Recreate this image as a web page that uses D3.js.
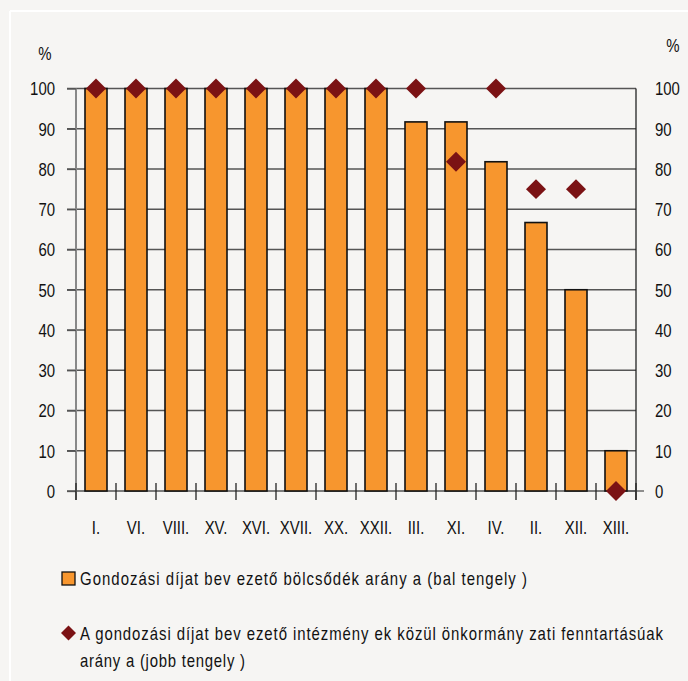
<!DOCTYPE html>
<html><head><meta charset="utf-8">
<script src="https://cdn.jsdelivr.net/npm/d3@7"></script>
<style>
html,body{margin:0;padding:0;background:#f6f5f3;}
svg{display:block;}
text{font-family:"Liberation Sans",Arial,sans-serif;fill:#111;}
</style></head>
<body>
<svg id="c" width="688" height="681"></svg>
<script>
const categories = ["I.","VI.","VIII.","XV.","XVI.","XVII.","XX.","XXII.","III.","XI.","IV.","II.","XII.","XIII."];
const barValues = [100,100,100,100,100,100,100,100,91.7,91.7,81.8,66.7,50,10];
const diamondValues = [100,100,100,100,100,100,100,100,100,81.8,100,75,75,0];
const tickValues = [0,10,20,30,40,50,60,70,80,90,100];
const legendBar = "Gondozási díjat bev ezető bölcsődék arány a (bal tengely )";
const legendDiamondLines = ["A gondozási díjat bev ezető intézmény ek közül önkormány zati fenntartásúak","arány a (jobb tengely )"];

(function(){
const svg = d3.select("#c");
const W = 688, H = 681;
const pL = 76, pR = 636, pT = 88.5, pB = 491;
const FS = 18, SX = 0.83;

// narrow text helper: draws text at (x,y) horizontally condensed
function ntext(parent, x, y, str, anchor, dy){
  const t = parent.append("text")
    .attr("transform", `translate(${x},${y}) scale(${SX},1)`)
    .attr("font-size", FS).attr("text-anchor", anchor || "start").text(str);
  if (dy) t.attr("dy", dy);
  return t;
}

svg.append("line").attr("x1",10).attr("x2",10).attr("y1",11).attr("y2",H).attr("stroke","#fff").attr("stroke-width",2);
svg.append("line").attr("x1",10).attr("x2",W).attr("y1",11).attr("y2",11).attr("stroke","#fff").attr("stroke-width",2);

const x = d3.scaleBand().domain(categories).range([pL,pR]).paddingInner(0.45).paddingOuter(0.225);
const yL = d3.scaleLinear().domain([0,100]).range([pB,pT]);
const yR = d3.scaleLinear().domain([0,100]).range([pB,pT]);

svg.append("g").selectAll("line").data(tickValues).join("line")
  .attr("x1",pL-9).attr("x2",pR).attr("y1",d=>yL(d)).attr("y2",d=>yL(d))
  .attr("stroke","#555").attr("stroke-width",1.3);

const gL = svg.append("g").attr("transform",`translate(${pL},0)`)
  .call(d3.axisLeft(yL).tickValues(tickValues).tickSize(9).tickPadding(12));
gL.attr("font-family",null).attr("font-size",null);
gL.select(".domain").attr("stroke","#888").attr("stroke-width",2).attr("d",`M0,${pT}V${pB+9}`);
gL.selectAll(".tick line").attr("stroke","#555").attr("stroke-width",1.3);
gL.selectAll(".tick text").attr("font-size",FS).attr("fill","#111")
  .attr("transform",`scale(${SX},1)`).attr("x",-21/SX).attr("dy","0.36em");

const gR = svg.append("g").attr("transform",`translate(${pR},0)`)
  .call(d3.axisRight(yR).tickValues(tickValues).tickSize(0).tickPadding(19));
gR.attr("font-family",null).attr("font-size",null);
gR.select(".domain").attr("stroke","#222").attr("stroke-width",1.3).attr("d",`M0,${pT}V${pB+9}`);
gR.selectAll(".tick text").attr("font-size",FS).attr("fill","#111")
  .attr("transform",`scale(${SX},1)`).attr("x",19/SX).attr("dy","0.36em");
svg.append("line").attr("x1",pR-8).attr("x2",pR+8).attr("y1",yR(0)).attr("y2",yR(0)).attr("stroke","#555").attr("stroke-width",1.3);

svg.append("g").selectAll("rect").data(categories).join("rect")
  .attr("x",d=>x(d)).attr("width",x.bandwidth())
  .attr("y",(d,i)=>yL(barValues[i])).attr("height",(d,i)=>yL(0)-yL(barValues[i]))
  .attr("fill","#f7962e").attr("stroke","#111").attr("stroke-width",1.6);

const bounds = d3.range(categories.length+1).map(i=>pL + i*x.step());
svg.append("g").selectAll("line").data(bounds).join("line")
  .attr("x1",d=>d).attr("x2",d=>d).attr("y1",pB-8).attr("y2",pB+9)
  .attr("stroke","#222").attr("stroke-width",1.3);

const gx = svg.append("g");
categories.forEach(c => ntext(gx, x(c)+x.bandwidth()/2, 533.5, c, "middle"));

const dsym = d3.symbol().type(d3.symbolSquare).size(200);
svg.append("g").selectAll("path").data(categories).join("path")
  .attr("d",dsym)
  .attr("transform",(d,i)=>`translate(${x(d)+x.bandwidth()/2},${yR(diamondValues[i])}) rotate(45)`)
  .attr("fill","#7b1214");

ntext(svg, 45, 59.5, "%", "middle");
ntext(svg, 673, 51.5, "%", "middle");

// legend
svg.append("rect").attr("x",62).attr("y",572).attr("width",13).attr("height",13)
  .attr("fill","#f7962e").attr("stroke","#111").attr("stroke-width",1.3);
ntext(svg, 80, 584.5, legendBar).attr("textLength", 447/SX).attr("lengthAdjust","spacing");
svg.append("path").attr("d",d3.symbol().type(d3.symbolSquare).size(112))
  .attr("transform","translate(68.5,633) rotate(45)").attr("fill","#7b1214");
const lw = [583, 165];
legendDiamondLines.forEach((s,i) => ntext(svg, 80, 639.5+i*27, s).attr("textLength", lw[i]/SX).attr("lengthAdjust","spacing"));
})();
</script>
</body></html>
